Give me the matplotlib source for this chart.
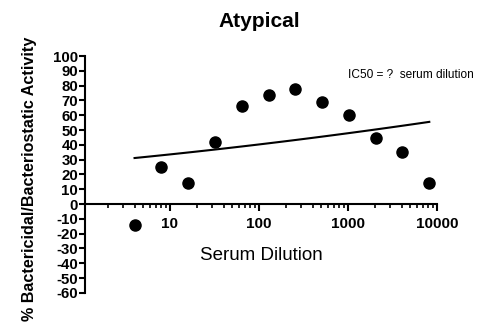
import numpy as np
import matplotlib
matplotlib.use('Agg')
import matplotlib.pyplot as plt
from matplotlib.ticker import LogLocator, FixedLocator, NullFormatter

plt.rcParams['font.family'] = ['Liberation Sans', 'DejaVu Sans']

# serum dilution vs % activity
dilution = [4, 8, 16, 32, 64, 128, 256, 512, 1024, 2048, 4096, 8192]
activity = [-14, 25, 14, 42, 66, 73.5, 77.5, 69, 60, 44.5, 35, 14.5]

# fitted curve
fit_x = [4, 32, 256, 1024, 8192]
fit_y = [31, 37, 43, 48, 55.5]

xticks = [10, 100, 1000, 10000]
xtick_labels = ['10', '100', '1000', '10000']
yticks = list(range(-60, 101, 10))

fig = plt.figure(figsize=(4.81, 3.25), dpi=100)
ax = fig.add_axes([85 / 481, 1 - 292.8 / 325, (437 - 85) / 481, (292.8 - 56) / 325])

ax.plot(dilution, activity, 'o', color='black', markersize=8, zorder=3)

# smooth the read curve in log space
coef = np.polyfit(np.log10(fit_x), fit_y, 2)
lx = np.linspace(np.log10(fit_x[0]), np.log10(fit_x[-1]), 100)
ax.plot(10 ** lx, np.polyval(coef, lx), '-', color='black', linewidth=1.5)

ax.set_xscale('log')
ax.set_xlim(1.11, 10000)
ax.set_ylim(-60, 100)

# axes cross at y = 0
for side in ['top', 'right']:
    ax.spines[side].set_visible(False)
ax.spines['bottom'].set_position(('data', 0))
ax.spines['bottom'].set_linewidth(1.5)
ax.spines['left'].set_linewidth(1.5)

ax.xaxis.set_major_locator(FixedLocator(xticks))
ax.set_xticklabels(xtick_labels, fontsize=11, fontweight='bold')
ax.xaxis.set_minor_locator(LogLocator(base=10, subs=np.arange(2, 10)))
ax.xaxis.set_minor_formatter(NullFormatter())
ax.tick_params(axis='x', which='major', length=5, width=1.5, pad=4)
ax.tick_params(axis='x', which='minor', length=3, width=1.2)

ax.set_yticks(yticks)
ax.set_yticklabels([str(v) for v in yticks], fontsize=10.8, fontweight='bold')
ax.tick_params(axis='y', length=4, width=1.5, pad=1)

fig.text(259 / 481, 1 - 27 / 325, 'Atypical', ha='center', va='baseline',
         fontsize=15, fontweight='bold')
fig.text(261 / 481, 1 - 260 / 325, 'Serum Dilution', ha='center', va='baseline',
         fontsize=13.5)
fig.text(30 / 481, 1 - 179 / 325, '% Bactericidal/Bacteriostatic Activity',
         rotation=90, ha='center', va='center', fontsize=11.6, fontweight='bold')
fig.text(348 / 481, 1 - 75 / 325, 'IC50 = ?  serum dilution', ha='left',
         va='center', fontsize=8.6)

fig.savefig('out.png', dpi=100)
